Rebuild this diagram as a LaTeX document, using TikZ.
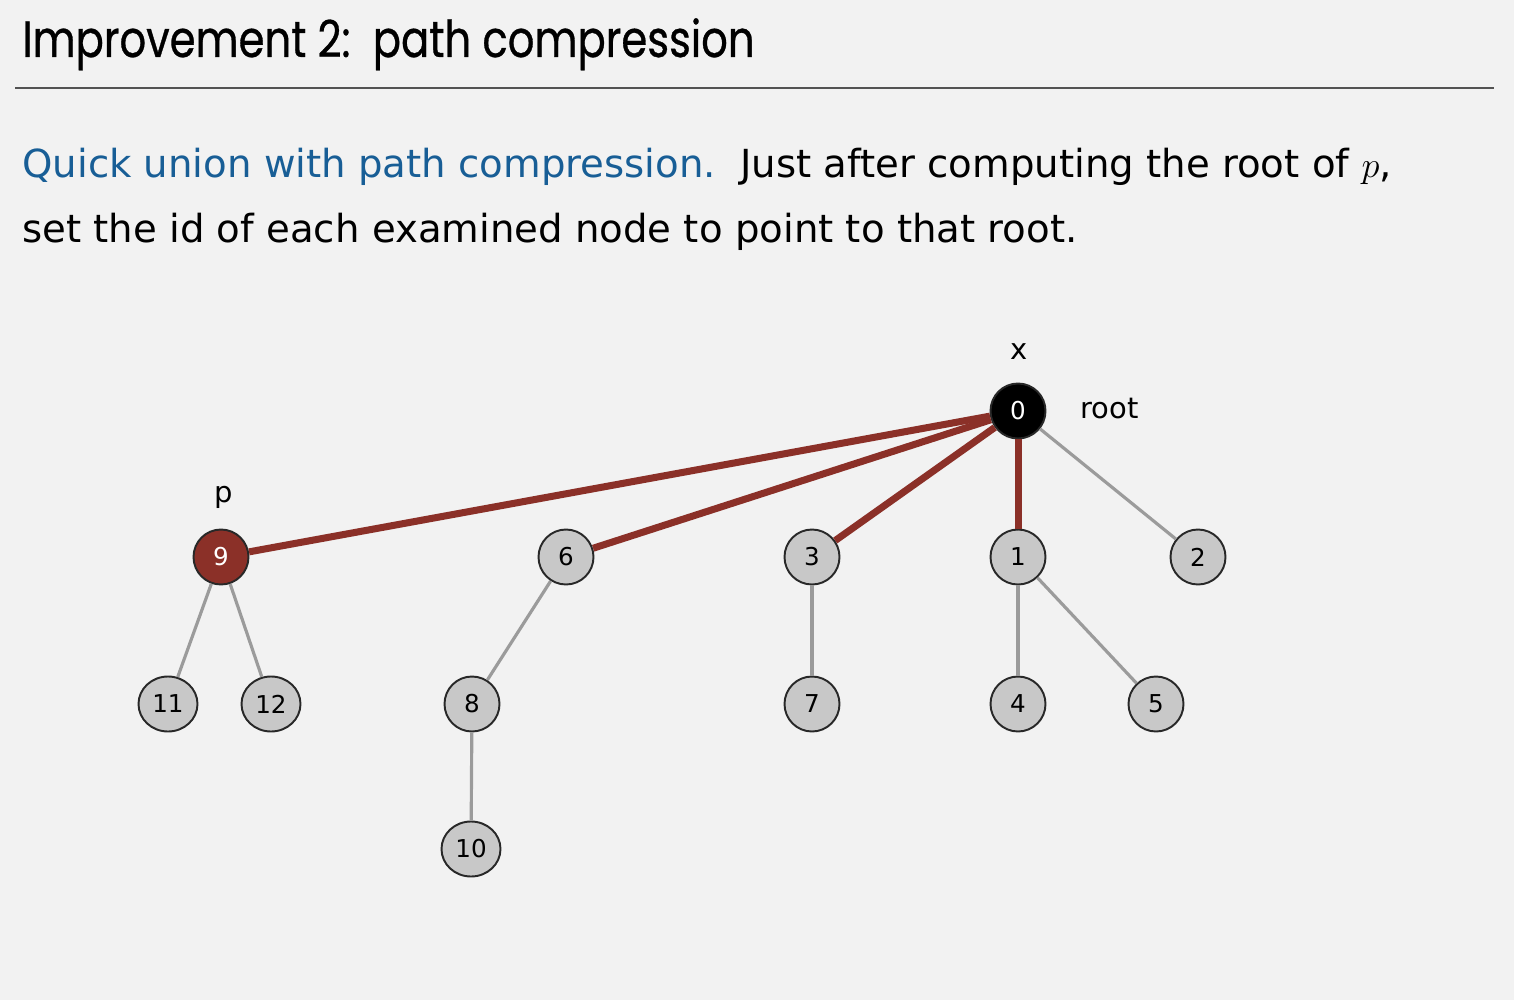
\documentclass[tikz,border=0pt]{standalone}
\usepackage{fontspec}
\setmainfont{DejaVu Sans}
\newfontfamily\titlefont[FakeStretch=0.82, FakeBold=0.6]{Poppins}
\usetikzlibrary{shapes.geometric}
\definecolor{bgcol}{RGB}{242,242,242}
\definecolor{pathred}{RGB}{139,48,40}
\definecolor{linkblue}{RGB}{24,94,150}
\definecolor{sitegray}{RGB}{200,200,200}
\definecolor{linkgray}{RGB}{155,155,155}
\definecolor{rimgray}{RGB}{40,40,40}
\tikzset{
  site/.style={circle, draw=rimgray, line width=1.1pt, fill=sitegray,
    minimum size=55*0.02cm, inner sep=0pt, font=\fontsize{14}{14}\selectfont},
  wide site/.style={site, ellipse, minimum width=59*0.02cm, minimum height=55*0.02cm},
  tree link/.style={linkgray, line width=1.8pt},
  root link/.style={pathred, line width=4pt},
  mark label/.style={font=\fontsize{16.5}{16.5}\selectfont}
}
\begin{document}
\begin{tikzpicture}[x=0.02cm, y=-0.02cm]
  % Background
  \fill[bgcol] (0,0) rectangle (1514,1000);
  \useasboundingbox (0,0) rectangle (1514,1000);

  % Title
  \node[anchor=base west, inner sep=0pt, font=\titlefont\fontsize{29}{29}\selectfont] (title) at (22,57) {Improvement 2:\ \ path compression};
  \draw[rimgray!80, line width=1.1pt] (15,88) -- (1494,88);

  % Text
  \node[anchor=base west, inner sep=0pt, font=\fontsize{22}{22}\selectfont] (line1) at (22,178)
    {\textcolor{linkblue}{Quick union with path compression.}\ \ Just after computing the root of $p$,};
  \node[anchor=base west, inner sep=0pt, font=\fontsize{22}{22}\selectfont] (line2) at (22,242)
    {set the id of each examined node to point to that root.};

  % Sites
  \node[site, fill=black, text=white] (n0) at (1018,411) {0};
  \node[site, fill=pathred, text=white] (n9) at (221,557) {9};
  \node[site] (n6) at (566,557) {6};
  \node[site] (n3) at (812,557) {3};
  \node[site] (n1) at (1018,557) {1};
  \node[site] (n2) at (1198,557) {2};
  \node[wide site] (n11) at (168,704) {11};
  \node[wide site] (n12) at (271,704) {12};
  \node[site] (n8) at (472,704) {8};
  \node[site] (n7) at (812,704) {7};
  \node[site] (n4) at (1018,704) {4};
  \node[site] (n5) at (1156,704) {5};
  \node[wide site] (n10) at (471,849) {10};

  % Links to root
  \foreach \s in {n9, n6, n3, n1} {
    \draw[root link] (n0) -- (\s);
  }
  \draw[tree link] (n0) -- (n2);
  \draw[tree link] (n9) -- (n11);
  \draw[tree link] (n9) -- (n12);
  \draw[tree link] (n6) -- (n8);
  \draw[tree link] (n8) -- (n10);
  \draw[tree link] (n3) -- (n7);
  \draw[tree link] (n1) -- (n4);
  \draw[tree link] (n1) -- (n5);

  % Labels
  \node[mark label] (xlab) at (1019,352) {x};
  \node[mark label, anchor=west] (rootlab) at (1074,409) {root};
  \node[mark label] (plab) at (224,497) {p};
\end{tikzpicture}
\end{document}
